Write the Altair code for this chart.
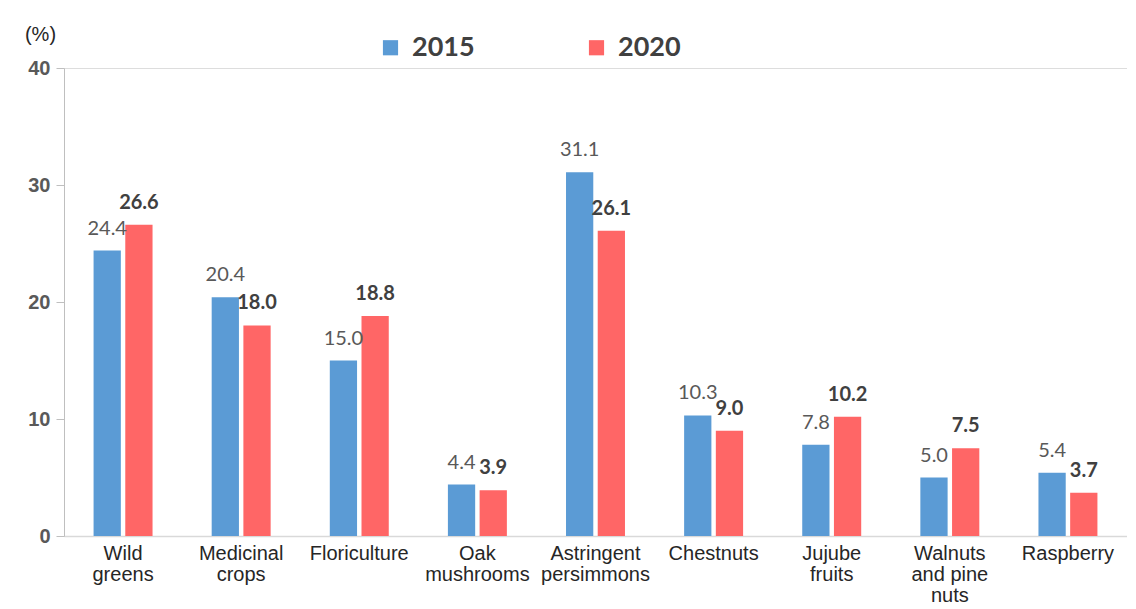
import altair as alt
import pandas as pd

categories = ["Wild|greens", "Medicinal|crops", "Floriculture", "Oak|mushrooms",
              "Astringent|persimmons", "Chestnuts", "Jujube|fruits",
              "Walnuts|and pine|nuts", "Raspberry"]
v2015 = [24.4, 20.4, 15.0, 4.4, 31.1, 10.3, 7.8, 5.0, 5.4]
v2020 = [26.6, 18.0, 18.8, 3.9, 26.1, 9.0, 10.2, 7.5, 3.7]
years = ["2015", "2020"]
colors = ["#5B9BD5", "#FF6666"]
y_ticks = [0, 10, 20, 30, 40]

rows = []
for c, a, b in zip(categories, v2015, v2020):
    rows.append({"cat": c, "year": "2015", "value": a})
    rows.append({"cat": c, "year": "2020", "value": b})
df = pd.DataFrame(rows)

x_enc = alt.X("cat:N", sort=categories,
              scale=alt.Scale(paddingInner=0.49, paddingOuter=0.245),
              axis=alt.Axis(title=None, labelAngle=0, ticks=False,
                            domainColor="#d9d9d9", domainWidth=1.5,
                            labelExpr="split(datum.label, '|')",
                            labelFont="Liberation Sans", labelFontSize=20,
                            labelColor="#262626", labelPadding=7,
                            labelLineHeight=21, labelLimit=220))
xo_enc = alt.XOffset("year:N", sort=years,
                     scale=alt.Scale(paddingInner=0.14, paddingOuter=0.02))
y_enc = alt.Y("value:Q",
              scale=alt.Scale(domain=[0, 40]),
              axis=alt.Axis(values=y_ticks, grid=False, title="(%)",
                            titleAngle=0, titleX=-24, titleY=-34,
                            titleAlign="center", titleBaseline="middle",
                            titleFont="Liberation Sans", titleFontSize=20,
                            titleFontWeight="normal", titleColor="#262626",
                            labelFont="Liberation Sans", labelFontSize=20,
                            labelFontWeight="bold", labelColor="#595959",
                            labelPadding=6, tickSize=8, tickColor="#bfbfbf",
                            domainColor="#bfbfbf"))

base = alt.Chart(df)

bars = base.mark_bar().encode(
    x=x_enc, xOffset=xo_enc, y=y_enc,
    color=alt.Color("year:N", sort=years,
                    scale=alt.Scale(domain=years, range=colors),
                    legend=alt.Legend(title=None, orient="none", direction="horizontal",
                                      legendX=313, legendY=-34,
                                      symbolType="square", symbolSize=230,
                                      symbolStrokeWidth=0, symbolOpacity=1,
                                      labelFont="Lato", labelFontSize=27,
                                      labelFontWeight="bold", labelColor="#404040",
                                      labelOffset=8, columnPadding=108))
)

lab15 = base.transform_filter(alt.datum.year == "2015").mark_text(
    baseline="bottom", dy=-12, font="Lato", fontSize=20, color="#595959"
).encode(x=x_enc, xOffset=xo_enc, y=y_enc, text=alt.Text("value:Q", format=".1f"))

lab20 = base.transform_filter(alt.datum.year == "2020").mark_text(
    baseline="bottom", dy=-12, font="Lato", fontSize=20, fontWeight="bold",
    color="#404040"
).encode(x=x_enc, xOffset=xo_enc, y=y_enc, text=alt.Text("value:Q", format=".1f"))

chart = alt.layer(bars, lab15, lab20).properties(
    width=1063, height=468,
    padding={"left": 16, "top": 16, "right": 0, "bottom": 0},
).configure_view(stroke=None).configure(background="white")

chart.save("out.html", embed_options={"renderer": "svg", "actions": False})
